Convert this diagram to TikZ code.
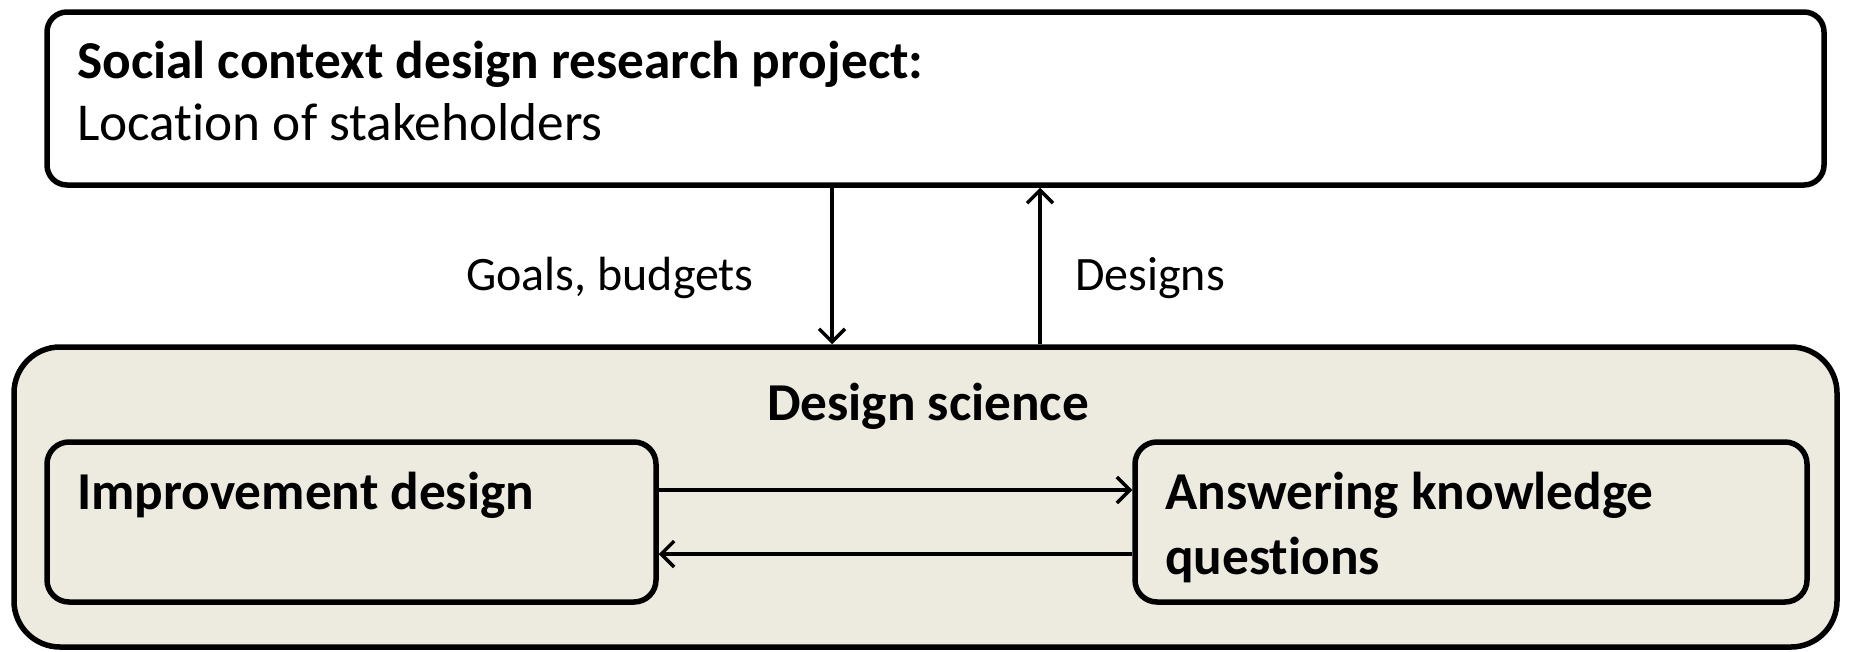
\documentclass[tikz,border=0pt]{standalone}
\usepackage{fontspec}
\setmainfont[Ligatures=NoCommon]{Carlito}
\usetikzlibrary{fit,arrows.meta}
\definecolor{dsfill}{RGB}{237,235,224}
\begin{document}
\begin{tikzpicture}[x=1pt,y=-1pt,
  box/.style={draw=black,line width=5.5pt,inner sep=0pt},
  big/.style={font=\fontsize{53.3}{64}\selectfont},
  lbl/.style={font=\fontsize{48}{57}\selectfont},
  conn/.style={line width=3.4pt,-{Straight Barb[length=13pt,width=26pt,line width=3.4pt]}}]
\useasboundingbox (0,0) rectangle (1849,651);
% top box
\node[box,rounded corners=20pt,fill=white,fit={(47,12) (1824,185)}] (top) {};
\node[big,anchor=base west,inner sep=0pt] (t1) at (77,78) {\bfseries Social context design research project:};
\node[big,anchor=base west,inner sep=0pt] (t2) at (77,140) {Location of stakeholders};
% design science box
\node[box,rounded corners=46pt,fill=dsfill,fit={(14,347) (1837,647)}] (ds) {};
\node[big,anchor=base,inner sep=0pt] (dst) at (928,420) {\bfseries Design science};
\node[box,rounded corners=22pt,fill=dsfill,fit={(47,442) (656,602)}] (imp) {};
\node[big,anchor=base west,inner sep=0pt] (impt) at (77,509) {\bfseries Improvement design};
\node[box,rounded corners=22pt,fill=dsfill,fit={(1135,442) (1807,602)}] (ans) {};
\node[big,anchor=base west,inner sep=0pt] (anst1) at (1165,509) {\bfseries Answering knowledge};
\node[big,anchor=base west,inner sep=0pt] (anst2) at (1165,574) {\bfseries questions};
% connectors
\coordinate (xg) at (832,0);
\coordinate (xd) at (1040,0);
\coordinate (yr) at (0,490);
\coordinate (yl) at (0,554);
\draw[conn] (top.south -| xg) -- (ds.north -| xg);
\draw[conn] (ds.north -| xd) -- (top.south -| xd);
\draw[conn] (imp.east |- yr) -- (ans.west |- yr);
\draw[conn] (ans.west |- yl) -- (imp.east |- yl);
\node[lbl,anchor=base,inner sep=0pt] (gb) at (610,290) {Goals, budgets};
\node[lbl,anchor=base,inner sep=0pt] (dg) at (1150,290) {Designs};
\end{tikzpicture}
\end{document}
